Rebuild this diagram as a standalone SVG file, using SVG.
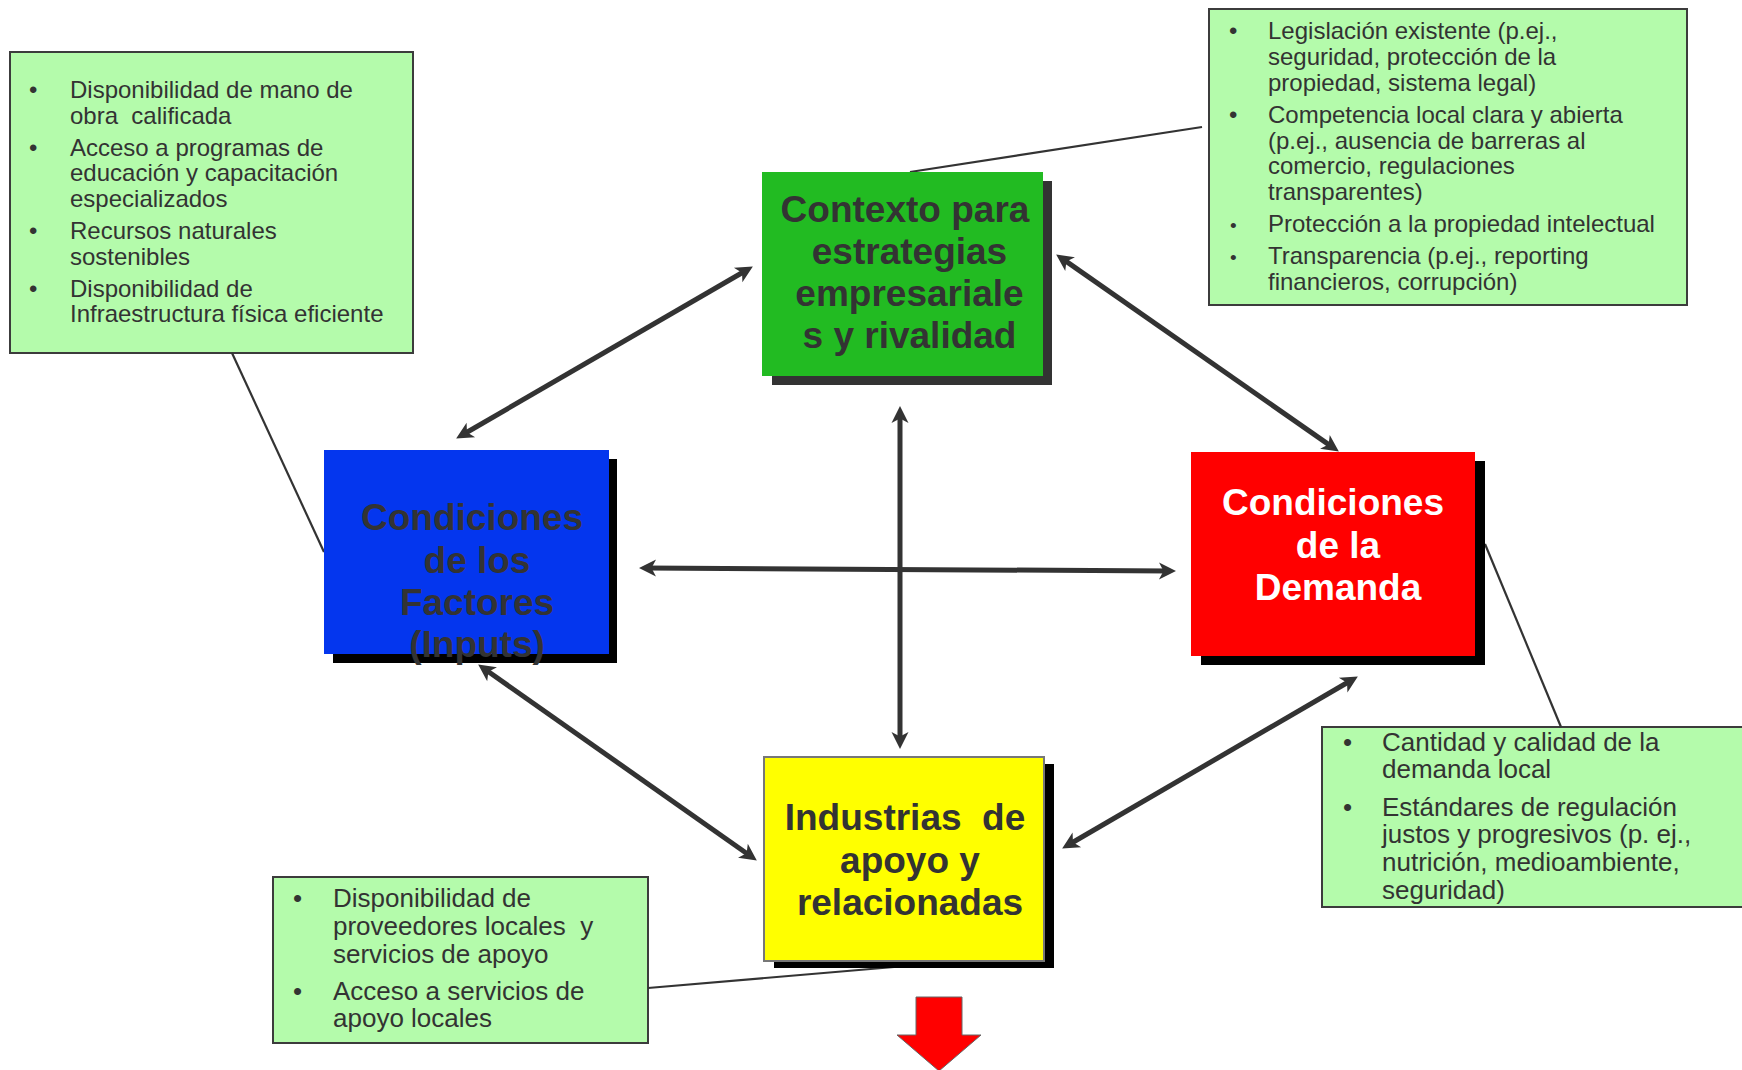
<svg xmlns="http://www.w3.org/2000/svg" width="1742" height="1070" viewBox="0 0 1742 1070">
<defs>
<style>
.note{fill:#b4fbab;stroke:#3c3c3c;stroke-width:2}
.nt{font-family:"Liberation Sans",Arial,sans-serif;fill:#333333}
.t24{font-size:24px}
.t26{font-size:26px}
.big{font-family:"Liberation Sans",Arial,sans-serif;font-weight:bold;font-size:37px;text-anchor:middle}
.dk{fill:#333333}
.wh{fill:#ffffff}
.conn{stroke:#333333;stroke-width:5;fill:none;marker-start:url(#ah);marker-end:url(#ah)}
.call{stroke:#333333;stroke-width:2.2;fill:none}
</style>
<marker id="ah" markerUnits="userSpaceOnUse" markerWidth="30" markerHeight="30" viewBox="-15 -15 30 30" refX="0" refY="0" orient="auto-start-reverse" overflow="visible">
<path d="M7,0 L-10,-8.5 L-5.5,0 L-10,8.5 Z" fill="#333333"/>
</marker>
</defs>
<rect x="0" y="0" width="1742" height="1070" fill="#ffffff"/>

<g id="note-factores">
<rect class="note" x="10" y="52" width="403" height="301"/>
<g class="nt t24">
<text x="29" y="98">•</text><text x="70" y="98">Disponibilidad de mano de</text>
<text x="70" y="123.5" xml:space="preserve">obra  calificada</text>
<text x="29" y="155.5">•</text><text x="70" y="155.5">Acceso a programas de</text>
<text x="70" y="181">educación y capacitación</text>
<text x="70" y="206.5">especializados</text>
<text x="29" y="239">•</text><text x="70" y="239">Recursos naturales</text>
<text x="70" y="264.5">sostenibles</text>
<text x="29" y="297">•</text><text x="70" y="297">Disponibilidad de</text>
<text x="70" y="322">Infraestructura física eficiente</text>
</g>
</g>

<g id="note-contexto">
<rect class="note" x="1209" y="9" width="478" height="296"/>
<g class="nt t24">
<text x="1229" y="39">•</text><text x="1268" y="39">Legislación existente (p.ej.,</text>
<text x="1268" y="64.5">seguridad, protección de la</text>
<text x="1268" y="90.5">propiedad, sistema legal)</text>
<text x="1229" y="123">•</text><text x="1268" y="123">Competencia local clara y abierta</text>
<text x="1268" y="148.5">(p.ej., ausencia de barreras al</text>
<text x="1268" y="174">comercio, regulaciones</text>
<text x="1268" y="200">transparentes)</text>
<text x="1230" y="232" font-size="19">•</text><text x="1268" y="232">Protección a la propiedad intelectual</text>
<text x="1230" y="264" font-size="19">•</text><text x="1268" y="264">Transparencia (p.ej., reporting</text>
<text x="1268" y="289.5">financieros, corrupción)</text>
</g>
</g>

<g id="note-apoyo">
<rect class="note" x="273" y="877" width="375" height="166"/>
<g class="nt t26">
<text x="293" y="907">•</text><text x="333" y="907">Disponibilidad de</text>
<text x="333" y="935" xml:space="preserve">proveedores locales  y</text>
<text x="333" y="963">servicios de apoyo</text>
<text x="293" y="1000">•</text><text x="333" y="1000">Acceso a servicios de</text>
<text x="333" y="1027">apoyo locales</text>
</g>
</g>

<g id="note-demanda">
<rect class="note" x="1322" y="727" width="430" height="180"/>
<g class="nt t26">
<text x="1343" y="751">•</text><text x="1382" y="751">Cantidad y calidad de la</text>
<text x="1382" y="778">demanda local</text>
<text x="1343" y="816">•</text><text x="1382" y="816">Estándares de regulación</text>
<text x="1382" y="843">justos y progresivos (p. ej.,</text>
<text x="1382" y="871">nutrición, medioambiente,</text>
<text x="1382" y="899">seguridad)</text>
</g>
</g>

<g id="connectors">
<line class="call" x1="232" y1="353" x2="324" y2="552"/>
<line class="call" x1="1202" y1="127" x2="910" y2="172"/>
<line class="call" x1="1485" y1="544" x2="1561" y2="727"/>
<line class="call" x1="894" y1="967" x2="648" y2="988"/>
<line class="conn" x1="462.2" y1="435.0" x2="746.8" y2="270.0"/>
<line class="conn" x1="1061.9" y1="258.4" x2="1333.1" y2="447.6"/>
<line class="conn" x1="900" y1="413" x2="900" y2="742"/>
<line class="conn" x1="646" y1="568" x2="1169" y2="571"/>
<line class="conn" x1="483.9" y1="668.5" x2="751.1" y2="856.5"/>
<line class="conn" x1="1351.8" y1="680.0" x2="1068.2" y2="845.0"/>
</g>

<g id="contexto">
<rect x="772" y="181" width="280" height="204" fill="#333333"/>
<rect x="762" y="172" width="281" height="204" fill="#22bb22"/>
<g class="big dk">
<text x="905" y="222">Contexto para</text>
<text x="909.5" y="264">estrategias</text>
<text x="909.5" y="306">empresariale</text>
<text x="909.5" y="348">s y rivalidad</text>
</g>
</g>

<g id="factores">
<rect x="333" y="459" width="284" height="204" fill="#000000"/>
<rect x="324" y="450" width="285" height="204" fill="#0436ee"/>
<g class="big dk">
<text x="472" y="530">Condiciones</text>
<text x="477" y="572.5">de los</text>
<text x="477" y="615">Factores</text>
<text x="477" y="657">(Inputs)</text>
</g>
</g>

<g id="demanda">
<rect x="1201" y="461" width="284" height="204" fill="#000000"/>
<rect x="1191" y="452" width="284" height="204" fill="#ff0000"/>
<g class="big wh">
<text x="1333" y="515">Condiciones</text>
<text x="1338" y="558">de la</text>
<text x="1338" y="600">Demanda</text>
</g>
</g>

<g id="industrias">
<rect x="774" y="764" width="280" height="204" fill="#000000"/>
<rect x="764" y="757" width="280" height="204" fill="#ffff00" stroke="#777777" stroke-width="2"/>
<g class="big dk">
<text x="905" y="830" xml:space="preserve">Industrias  de</text>
<text x="910" y="872.5">apoyo y</text>
<text x="910" y="915">relacionadas</text>
</g>
</g>

<g id="flecha-salida">
<polygon points="916,997 962,997 962,1035 981,1035 939,1071 897,1035 916,1035" fill="#ff0000" stroke="#666666" stroke-width="1"/>
</g>
</svg>
